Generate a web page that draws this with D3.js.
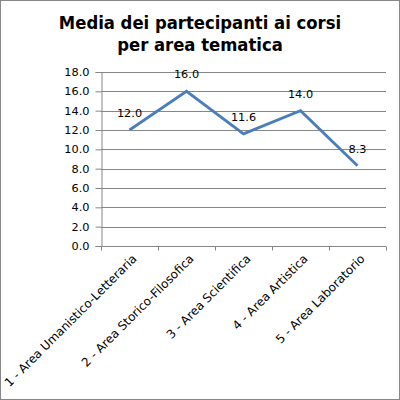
<!DOCTYPE html>
<html><head><meta charset="utf-8">
<script src="https://cdn.jsdelivr.net/npm/d3@7"></script>
<style>body{margin:0;background:#fff}svg{display:block}</style>
</head><body>
<script>
const categories = ["1 - Area Umanistico-Letteraria","2 - Area Storico-Filosofica","3 - Area Scientifica","4 - Area Artistica","5 - Area Laboratorio"];
const values = [12.0, 16.0, 11.6, 14.0, 8.3];
const labels = ["12.0","16.0","11.6","14.0","8.3"];
const yTicks = [0,2,4,6,8,10,12,14,16,18];
const titleLines = ["Media dei partecipanti ai corsi","per area tematica"];

const W=400,H=400;
const svg=d3.select("body").append("svg").attr("width",W).attr("height",H);
svg.append("rect").attr("x",0.5).attr("y",0.5).attr("width",W-1).attr("height",H-1).attr("fill","#fff").attr("stroke","#868686");

const x=d3.scaleBand().domain(categories).range([101,386]);
const y=d3.scaleLinear().domain([0,18]).range([246,72]);
const font="Verdana, 'DejaVu Sans', sans-serif";

svg.append("g").selectAll("text").data(titleLines).join("text")
  .attr("x",200).attr("y",(d,i)=>29+i*22).attr("text-anchor","middle")
  .attr("font-family","'DejaVu Sans Condensed', 'DejaVu Sans', sans-serif").attr("font-stretch","condensed")
  .attr("font-weight","bold").attr("font-size",18.3).attr("fill","#000").text(d=>d);

// gridlines
svg.append("g").selectAll("line").data(yTicks.slice(1)).join("line")
  .attr("x1",101).attr("x2",386).attr("y1",d=>Math.round(y(d))+0.5).attr("y2",d=>Math.round(y(d))+0.5)
  .attr("stroke","#868686");

const yAxis=svg.append("g").attr("transform","translate(101.5,0)")
  .call(d3.axisLeft(y).tickValues(yTicks).tickFormat(d3.format(".1f")).tickSize(6).tickPadding(6).offset(0.5));
yAxis.select(".domain").attr("stroke","#868686");
yAxis.selectAll(".tick line").attr("stroke","#868686");
yAxis.selectAll("text").attr("font-family",font).attr("font-size",11.3).attr("fill","#000");

// x axis
const xg=svg.append("g").attr("transform","translate(0,246.5)");
xg.append("line").attr("x1",101).attr("x2",386).attr("stroke","#868686");
const bounds=[x(categories[0])].concat(categories.map(c=>x(c)+x.bandwidth()));
xg.selectAll(".tk").data(bounds).join("line").attr("class","tk")
  .attr("x1",d=>Math.round(d)+0.5).attr("x2",d=>Math.round(d)+0.5).attr("y1",0).attr("y2",4).attr("stroke","#868686");
xg.selectAll("text").data(categories).join("text")
  .attr("transform",d=>`translate(${x(d)+x.bandwidth()/2+8},${13}) rotate(-45)`)
  .attr("text-anchor","end").attr("font-family",font).attr("font-size",12).attr("fill","#000").text(d=>d);

const cx=d=>x(d)+x.bandwidth()/2;
const line=d3.line().x((d,i)=>cx(categories[i])).y(d=>y(d));
svg.append("path").datum(values).attr("d",line).attr("fill","none").attr("stroke","#4a7ebb").attr("stroke-width",2.8);

svg.append("g").selectAll("text").data(values).join("text")
  .attr("x",(d,i)=>cx(categories[i])).attr("y",d=>y(d)-13).attr("text-anchor","middle")
  .attr("font-family",font).attr("font-size",11.3).attr("fill","#000").text((d,i)=>labels[i]);
</script>
</body></html>
